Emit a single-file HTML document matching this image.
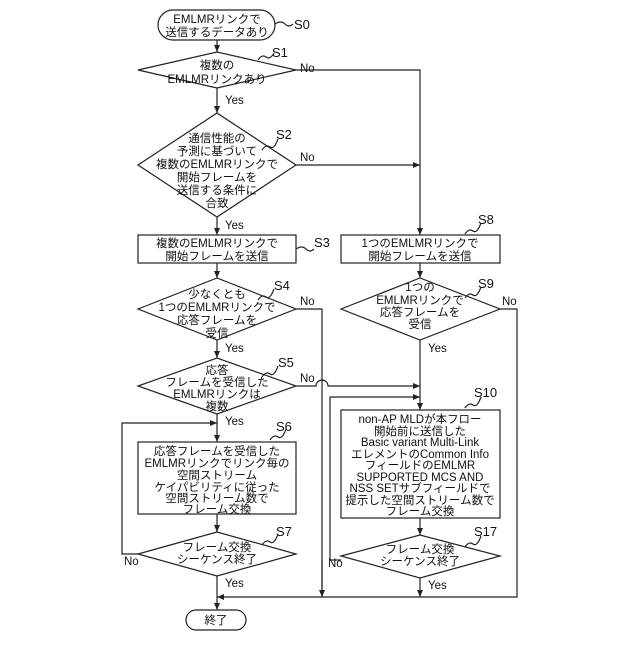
<!DOCTYPE html>
<html><head><meta charset="utf-8"><style>
html,body{margin:0;padding:0;background:#fff}
text{font-family:"Liberation Sans","Noto Sans CJK JP",sans-serif;font-size:11.5px;fill:#111}
.t{text-anchor:middle}
.l{font-size:13px}
</style></head><body>
<svg width="640" height="640" viewBox="0 0 640 640" xmlns="http://www.w3.org/2000/svg">
<defs><marker id="a" markerWidth="8" markerHeight="8" refX="7" refY="4" orient="auto" markerUnits="userSpaceOnUse"><path d="M0,1 L7,4 L0,7z" fill="#222"/></marker></defs>
<g fill="none" stroke="#222" stroke-width="1.2">
<rect x="158" y="10" width="117" height="30" rx="15"/>
<polygon points="138,70 217,52 296,70 217,88"/>
<polygon points="138,165 217,113 296,165 217,217"/>
<rect x="138" y="235" width="158" height="28"/>
<polygon points="138,309 217,278 296,309 217,340"/>
<polygon points="138,386 217,358 296,386 217,414"/>
<rect x="138" y="442" width="158" height="72"/>
<polygon points="138,554 217,532 296,554 217,576"/>
<rect x="186" y="610" width="60" height="20" rx="10"/>
<rect x="341" y="235" width="159" height="28"/>
<polygon points="341,309 420,278 500,309 420,340"/>
<rect x="341" y="410" width="159" height="108"/>
<polygon points="341,556 420,535 500,556 420,578"/>
<!-- connectors left -->
<line x1="217" y1="40" x2="217" y2="52" marker-end="url(#a)"/>
<line x1="217" y1="88" x2="217" y2="113" marker-end="url(#a)"/>
<line x1="217" y1="217" x2="217" y2="235" marker-end="url(#a)"/>
<line x1="217" y1="263" x2="217" y2="278" marker-end="url(#a)"/>
<line x1="217" y1="340" x2="217" y2="358" marker-end="url(#a)"/>
<line x1="217" y1="414" x2="217" y2="442" marker-end="url(#a)"/>
<line x1="217" y1="514" x2="217" y2="532" marker-end="url(#a)"/>
<line x1="217" y1="576" x2="217" y2="610" marker-end="url(#a)"/>
<polyline points="138,554 122,554 122,423 217,423" marker-end="url(#a)"/>
<!-- No branches -->
<polyline points="296,70 420,70 420,235" marker-end="url(#a)"/>
<line x1="296" y1="165" x2="420" y2="165" marker-end="url(#a)"/>
<polyline points="296,309 322,309 322,597" />
<line x1="322" y1="560" x2="322" y2="597" marker-end="url(#a)"/>
<path d="M296,386 L316,386 A6,6 0 0 1 328,386 L420,386" marker-end="url(#a)"/>
<!-- right -->
<line x1="420" y1="263" x2="420" y2="278" marker-end="url(#a)"/>
<line x1="420" y1="340" x2="420" y2="410" marker-end="url(#a)"/>
<polyline points="341,560 330,560 330,397 420,397" marker-end="url(#a)"/>
<line x1="420" y1="518" x2="420" y2="535" marker-end="url(#a)"/>
<line x1="420" y1="578" x2="420" y2="597" marker-end="url(#a)"/>
<polyline points="500,309 517,309 517,597 217,597" marker-end="url(#a)"/>
<!-- leader squiggles -->
<path d="M275,24 q6,-4 10,0 t8,0"/>
<path d="M258,60 q4,-6 8,-3 t8,-4"/>
<path d="M262,150 q4,-6 8,-3 t8,-8"/>
<path d="M296,249 q6,-4 10,0 t8,0"/>
<path d="M258,300 q4,-6 8,-3 t8,-8"/>
<path d="M262,377 q4,-6 8,-3 t8,-8"/>
<path d="M270,440 q4,-6 8,-3 t8,-8"/>
<path d="M262,545 q4,-6 8,-3 t8,-8"/>
<path d="M465,234 q4,-6 8,-3 t8,-8"/>
<path d="M465,298 q4,-6 8,-3 t8,-8"/>
<path d="M465,408 q4,-6 8,-3 t8,-8"/>
<path d="M465,547 q4,-6 8,-3 t8,-8"/>
</g>
<g>
<text class="t" x="217" y="23">EMLMRリンクで</text>
<text class="t" x="217" y="36">送信するデータあり</text>
<text class="t" x="217" y="69">複数の</text>
<text class="t" x="217" y="83">EMLMRリンクあり</text>
<text class="t" x="217" y="142">通信性能の</text>
<text class="t" x="217" y="155">予測に基づいて</text>
<text class="t" x="217" y="168">複数のEMLMRリンクで</text>
<text class="t" x="217" y="181">開始フレームを</text>
<text class="t" x="217" y="194">送信する条件に</text>
<text class="t" x="217" y="207">合致</text>
<text class="t" x="217" y="247">複数のEMLMRリンクで</text>
<text class="t" x="217" y="260">開始フレームを送信</text>
<text class="t" x="217" y="298">少なくとも</text>
<text class="t" x="217" y="311">1つのEMLMRリンクで</text>
<text class="t" x="217" y="324">応答フレームを</text>
<text class="t" x="217" y="337">受信</text>
<text class="t" x="217" y="374">応答</text>
<text class="t" x="217" y="386">フレームを受信した</text>
<text class="t" x="217" y="398">EMLMRリンクは</text>
<text class="t" x="217" y="410">複数</text>
<text class="t" x="217" y="455">応答フレームを受信した</text>
<text class="t" x="217" y="467">EMLMRリンクでリンク毎の</text>
<text class="t" x="217" y="479">空間ストリーム</text>
<text class="t" x="217" y="491">ケイパビリティに従った</text>
<text class="t" x="217" y="502">空間ストリーム数で</text>
<text class="t" x="217" y="513">フレーム交換</text>
<text class="t" x="217" y="551">フレーム交換</text>
<text class="t" x="217" y="563">シーケンス終了</text>
<text class="t" x="216" y="624">終了</text>
<text class="t" x="420" y="247">1つのEMLMRリンクで</text>
<text class="t" x="420" y="260">開始フレームを送信</text>
<text class="t" x="420" y="291">1つの</text>
<text class="t" x="420" y="304">EMLMRリンクで</text>
<text class="t" x="420" y="316">応答フレームを</text>
<text class="t" x="420" y="328">受信</text>
<text class="t" x="420" y="423">non-AP MLDが本フロー</text>
<text class="t" x="420" y="435">開始前に送信した</text>
<text class="t" x="420" y="446">Basic variant Multi-Link</text>
<text class="t" x="420" y="458">エレメントのCommon Info</text>
<text class="t" x="420" y="469">フィールドのEMLMR</text>
<text class="t" x="420" y="481">SUPPORTED MCS AND</text>
<text class="t" x="420" y="492">NSS SETサブフィールドで</text>
<text class="t" x="420" y="504">提示した空間ストリーム数で</text>
<text class="t" x="420" y="515">フレーム交換</text>
<text class="t" x="420" y="553">フレーム交換</text>
<text class="t" x="420" y="565">シーケンス終了</text>
<!-- Yes/No -->
<text x="225" y="104">Yes</text>
<text x="225" y="229">Yes</text>
<text x="225" y="352">Yes</text>
<text x="225" y="425">Yes</text>
<text x="225" y="587">Yes</text>
<text x="428" y="352">Yes</text>
<text x="428" y="589">Yes</text>
<text x="300" y="72">No</text>
<text x="300" y="161">No</text>
<text x="300" y="305">No</text>
<text x="300" y="382">No</text>
<text x="124" y="565">No</text>
<text x="502" y="305">No</text>
<text x="328" y="567">No</text>
<!-- step labels -->
<text class="l" x="294" y="29">S0</text>
<text class="l" x="272" y="57">S1</text>
<text class="l" x="276" y="139">S2</text>
<text class="l" x="314" y="247">S3</text>
<text class="l" x="274" y="290">S4</text>
<text class="l" x="278" y="367">S5</text>
<text class="l" x="276" y="431">S6</text>
<text class="l" x="276" y="536">S7</text>
<text class="l" x="478" y="224">S8</text>
<text class="l" x="478" y="288">S9</text>
<text class="l" x="474" y="397">S10</text>
<text class="l" x="474" y="536">S17</text>
</g>
</svg>
</body></html>
